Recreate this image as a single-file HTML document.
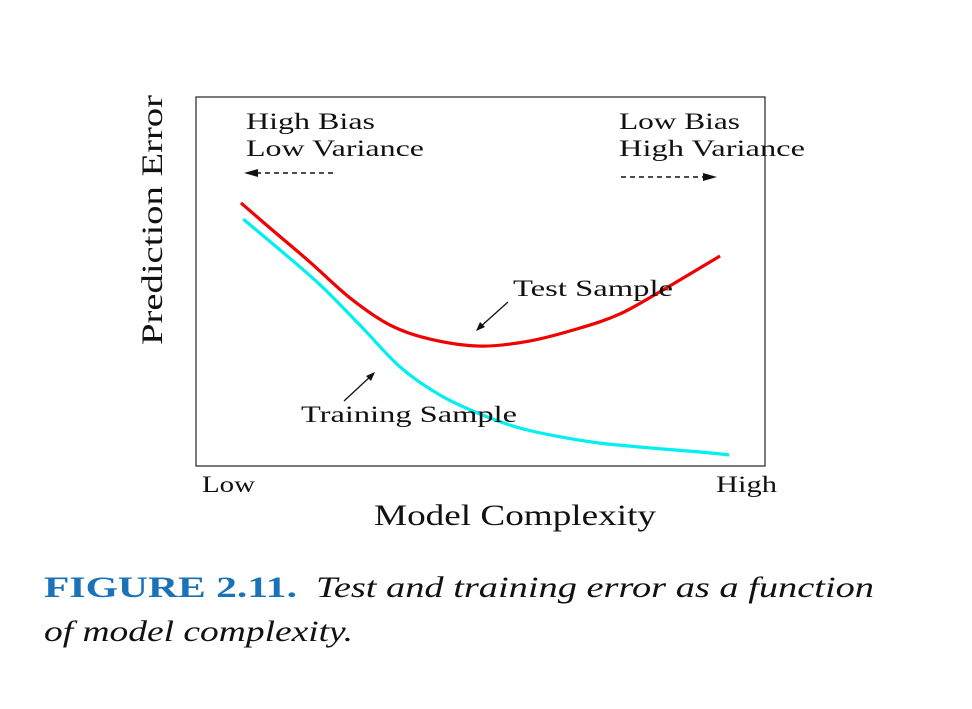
<!DOCTYPE html>
<html><head><meta charset="utf-8"><style>
body{margin:0;background:#fff;width:972px;height:704px;overflow:hidden}
svg text{font-family:"Liberation Serif",serif;fill:#111}
</style></head><body>
<svg width="972" height="704">
<rect x="196" y="97" width="569" height="369" fill="none" stroke="#222" stroke-width="1.2"/>
<g id="series"></g>
<text x="246" y="129" font-size="23" textLength="129" lengthAdjust="spacingAndGlyphs">High Bias</text>
<text x="246" y="156" font-size="23" textLength="178" lengthAdjust="spacingAndGlyphs">Low Variance</text>
<text x="619" y="129" font-size="23" textLength="121" lengthAdjust="spacingAndGlyphs">Low Bias</text>
<text x="619" y="156" font-size="23" textLength="186" lengthAdjust="spacingAndGlyphs">High Variance</text>
<line x1="333" y1="173" x2="256" y2="173" stroke="#111" stroke-width="1.6" stroke-dasharray="5,4"/>
<polygon points="244,173 258,169 258,177" fill="#111"/>
<line x1="621" y1="177" x2="704" y2="177" stroke="#111" stroke-width="1.6" stroke-dasharray="5,4"/>
<polygon points="717,177 703,173 703,181" fill="#111"/>
<text x="513" y="296" font-size="23" textLength="160" lengthAdjust="spacingAndGlyphs">Test Sample</text>
<line x1="508" y1="302" x2="479" y2="328" stroke="#111" stroke-width="1.3"/>
<polygon points="476,331 480,322 485,327" fill="#111"/>
<text x="301" y="422" font-size="23" textLength="216" lengthAdjust="spacingAndGlyphs">Training Sample</text>
<line x1="344" y1="401" x2="372" y2="375" stroke="#111" stroke-width="1.3"/>
<polygon points="375,372 371,381 366,376" fill="#111"/>
<text x="202" y="492" font-size="23" textLength="53" lengthAdjust="spacingAndGlyphs">Low</text>
<text x="716" y="492" font-size="23" textLength="61" lengthAdjust="spacingAndGlyphs">High</text>
<text x="374" y="525" font-size="30" textLength="282" lengthAdjust="spacingAndGlyphs">Model Complexity</text>
<text transform="translate(162,345) rotate(-90)" font-size="30" textLength="250" lengthAdjust="spacingAndGlyphs">Prediction Error</text>
<text x="44" y="597" font-size="30" font-weight="bold" style="fill:#1a72b8" textLength="253" lengthAdjust="spacingAndGlyphs">FIGURE 2.11.</text>
<text x="316" y="597" font-size="30" font-style="italic" textLength="558" lengthAdjust="spacingAndGlyphs">Test and training error as a function</text>
<text x="44" y="641" font-size="30" font-style="italic" textLength="309" lengthAdjust="spacingAndGlyphs">of model complexity.</text>
</svg>
<script>
const testX=[7.9,13.0,20.0,27.1,34.1,41.1,49.9,58.7,67.5,74.5,81.5,88.6,92.1];
const testY=[71.3,64.5,55.3,45.5,38.2,34.4,32.5,33.9,37.4,41.2,47.2,53.7,56.9];
const trainX=[8.3,14.8,21.8,28.8,35.9,42.9,49.9,56.9,64.0,71.0,79.8,88.6,93.7];
const trainY=[66.9,58.5,49.1,38.2,26.8,19.2,14.1,10.3,7.9,6.2,4.9,3.8,3.0];
const sx=v=>196+v*5.69, sy=v=>466-v*3.69;
function path(xs,ys){
  const p=xs.map((x,i)=>[sx(x),sy(ys[i])]);
  let d='M'+p[0][0]+','+p[0][1];
  for(let i=0;i<p.length-1;i++){
    const p0=p[i-1]||p[i],p1=p[i],p2=p[i+1],p3=p[i+2]||p2;
    d+=` C${p1[0]+(p2[0]-p0[0])/6},${p1[1]+(p2[1]-p0[1])/6} ${p2[0]-(p3[0]-p1[0])/6},${p2[1]-(p3[1]-p1[1])/6} ${p2[0]},${p2[1]}`;
  }
  return d;
}
const g=document.getElementById('series');
[[trainX,trainY,'#00f0f0','training-error-curve'],[testX,testY,'#f00000','test-error-curve']].forEach(s=>{
  const el=document.createElementNS('http://www.w3.org/2000/svg','path');
  el.setAttribute('d',path(s[0],s[1]));
  el.setAttribute('fill','none');el.setAttribute('stroke',s[2]);el.setAttribute('stroke-width','3.2');
  
  
  g.appendChild(el);
});
</script>
</body></html>
